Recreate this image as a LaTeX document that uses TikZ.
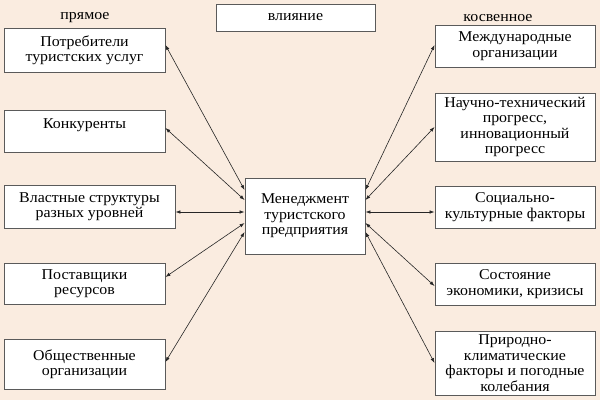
\documentclass[tikz,border=0pt]{standalone}
\usepackage{fontspec}
\setmainfont{Liberation Serif}[FakeStretch=1.06]
\usetikzlibrary{arrows.meta}
\definecolor{peach}{RGB}{250,236,224}
\definecolor{boxline}{RGB}{90,90,90}
\tikzset{
  factor/.style={draw=boxline,line width=0.9pt,fill=white,align=center,inner sep=2pt,
    minimum width=161pt,font=\fontsize{15}{15.5}\selectfont},
  link/.style={{Latex[length=5pt,width=3.5pt]}-{Latex[length=5pt,width=3.5pt]},line width=0.6pt,black!85}
}
\begin{document}
\begin{tikzpicture}[x=1pt,y=-1pt]
\fill[peach] (0,0) rectangle (600,400);
\useasboundingbox (0,0) rectangle (600,400);

% top caption
\node[factor,minimum width=159pt,minimum height=27pt] (infl) at (295.5,17.5) {влияние};
\node[font=\fontsize{15}{15}\selectfont] (direct) at (85,18) {прямое};
\node[font=\fontsize{15}{15}\selectfont] (indirect) at (498,18) {косвенное};

% centre
\node[factor,minimum width=120pt,minimum height=76pt] (mgmt) at (305,216) {Менеджмент\\туристского\\предприятия};

% direct factors
\node[factor,minimum height=44pt] (cons) at (84.5,50) {Потребители\\туристских услуг};
\node[factor,minimum height=42pt] (comp) at (84.5,131) {Конкуренты\\ };
\node[factor,minimum width=171pt,minimum height=43pt] (power) at (89.5,206.5) {Властные структуры\\разных уровней};
\node[factor,minimum height=41pt] (supp) at (84.5,283.5) {Поставщики\\ресурсов};
\node[factor,minimum height=50pt] (publ) at (84.5,364) {Общественные\\организации};

% indirect factors
\node[factor,minimum width=160pt,minimum height=42pt] (intl) at (515,46) {Международные\\организации};
\node[factor,minimum width=160pt,minimum height=68pt] (tech) at (515,127) {Научно-технический\\прогресс,\\инновационный\\прогресс};
\node[factor,minimum width=160pt,minimum height=42pt] (soc) at (515,207) {Социально-\\культурные факторы};
\node[factor,minimum width=160pt,minimum height=42pt] (econ) at (515,284) {Состояние\\экономики, кризисы};
\node[factor,minimum width=160pt,minimum height=64pt] (nat) at (515,363) {Природно-\\климатические\\факторы и погодные\\колебания};

\draw[link] ([yshift=5pt]cons.east) -- ([yshift=26pt]mgmt.west);
\draw[link] ([yshift=3pt]comp.east) -- ([yshift=16pt]mgmt.west);
\draw[link] ([yshift=-5.5pt]power.east) -- ([yshift=4pt]mgmt.west);
\draw[link] ([yshift=6.5pt]supp.east) -- ([yshift=-7pt]mgmt.west);
\draw[link] ([yshift=2pt]publ.east) -- ([yshift=-16pt]mgmt.west);

\draw[link] ([yshift=1pt]intl.west) -- ([yshift=26pt]mgmt.east);
\draw[link] (tech.west) -- ([yshift=16pt]mgmt.east);
\draw[link] ([yshift=-5pt]soc.west) -- ([yshift=4pt]mgmt.east);
\draw[link] ([yshift=-2pt]econ.west) -- ([yshift=-7pt]mgmt.east);
\draw[link] (nat.west) -- ([yshift=-16pt]mgmt.east);
\end{tikzpicture}
\end{document}
